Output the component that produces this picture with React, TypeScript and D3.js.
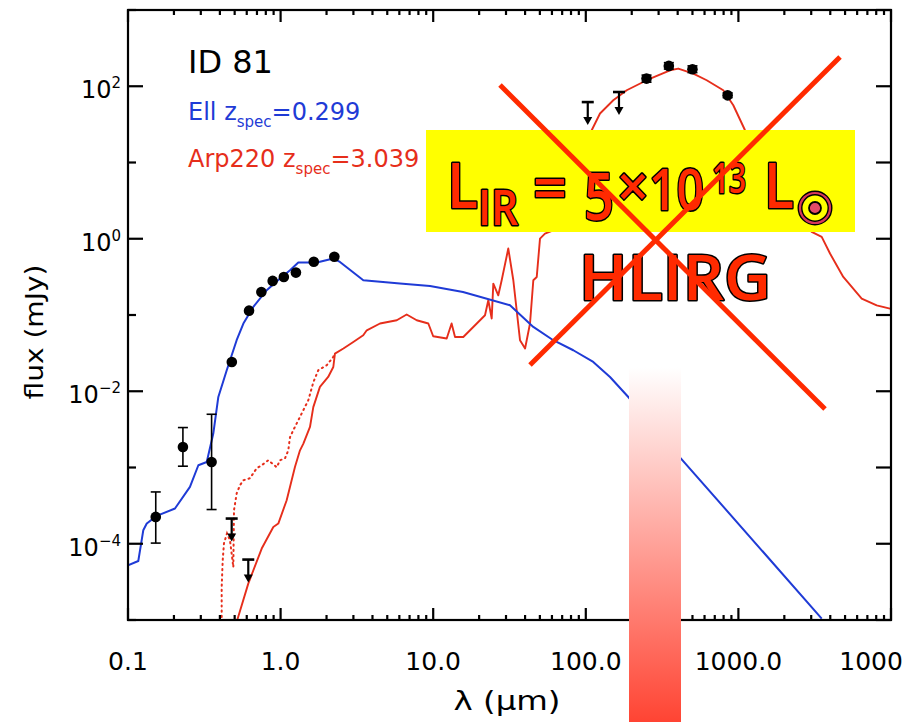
import * as d3 from 'd3';

// Ell template SED at z=0.299 (lambda in micron, flux in mJy)
const ellTemplate: [number, number][] = [
  [0.1, 5.22e-5], [0.1168, 5.94e-5], [0.1259, 1.5e-4], [0.1327, 1.84e-4], [0.1542, 2.32e-4],
  [0.2032, 2.9e-4], [0.2547, 5.56e-4], [0.2891, 1.07e-3], [0.3281, 1.18e-3], [0.3622, 2.79e-3],
  [0.3908, 8.41e-3], [0.4436, 0.01884], [0.5152, 0.0467], [0.5702, 0.0773], [0.6622, 0.1276],
  [0.811, 0.2113], [0.9908, 0.3006], [1.153, 0.3864], [1.306, 0.4875], [1.726, 0.4875],
  [2.218, 0.5495], [2.449, 0.4966], [3.483, 0.2858], [6.053, 0.2582], [9.528, 0.24],
  [15.68, 0.2006], [31.87, 0.1343], [45.3, 0.0697], [61.2, 0.0467], [82.8, 0.0345],
  [111.9, 0.0242], [144.1, 0.0154], [189.9, 8.41e-3], [420.7, 1.31e-3], [3516, 1.045e-5],
];

// Arp220 template SED at z=3.039
const arp220Template: [number, number][] = [
  [0.5, 7e-6], [0.52, 1.0e-5], [0.614, 3.0e-5], [0.752, 8.65e-5], [0.896, 1.66e-4], [0.966, 1.84e-4],
  [1.096, 3.72e-4], [1.152, 5.56e-4], [1.243, 1.02e-3], [1.34, 1.68e-3], [1.41, 2.06e-3],
  [1.558, 3.4e-3], [1.638, 6.2e-3], [1.81, 0.0114], [2.05, 0.0154], [2.215, 0.0208],
  [2.27, 0.0312], [2.58, 0.0363], [2.995, 0.0443], [3.48, 0.0542], [3.67, 0.063],
  [4.48, 0.0773], [5.77, 0.0853], [6.7, 0.1014], [7.8, 0.0853], [9.29, 0.0773],
  [10.0, 0.0526], [12.26, 0.0491], [13.2, 0.0773], [13.9, 0.0515], [15.75, 0.0515],
  [21.85, 0.0993], [22.97, 0.156], [24.17, 0.0898], [24.77, 0.258], [26.7, 0.1815],
  [28.1, 0.2856], [31.05, 0.744], [33.5, 0.2856], [37.05, 0.0467], [40.0, 0.0363],
  [43.1, 0.0773], [45.3, 0.2856], [47.7, 0.3155], [50.1, 1.006], [54.0, 1.17],
  [61.2, 1.29], [73.1, 3.72], [88.9, 10.7], [109.3, 26.5], [123.9, 43.9],
  [151.4, 65.5], [185.4, 88.6], [250.6, 119.9], [356.3, 162.1], [403.8, 170.6],
  [506.3, 146.7], [619.9, 119.9], [796.2, 88.6], [925.9, 56.3], [1105, 26.5],
  [1611, 6.8], [2350, 2.23], [3022, 1.228], [3515, 1.056], [3985, 0.64],
  [4868, 0.3155], [6427, 0.1643], [8058, 0.134], [9850, 0.1215], [11000, 0.118],
];

// Arp220 template without the UV/optical absorption (dotted)
const arp220Dotted: [number, number][] = [
  [0.411, 8e-6], [0.411, 2.69e-5], [0.4175, 6.08e-5], [0.4256, 1.016e-4], [0.4455, 1.37e-4],
  [0.466, 1.11e-4], [0.49, 4.92e-5], [0.495, 2.75e-4], [0.5155, 4.59e-4], [0.542, 5.85e-4],
  [0.57, 6.8e-4], [0.63, 7.23e-4], [0.697, 9.77e-4], [0.752, 1.07e-3], [0.831, 1.245e-3],
  [0.943, 1.007e-3], [0.991, 1.245e-3], [1.069, 1.32e-3], [1.123, 1.68e-3], [1.152, 2.49e-3],
  [1.211, 3.08e-3], [1.306, 4.17e-3], [1.519, 7.62e-3], [1.638, 0.0131], [1.766, 0.0189],
  [2.005, 0.0219], [2.205, 0.0279], [2.27, 0.0312],
];

// photometry: lambda, flux, lower, upper
const detections: [number, number, number, number][] = [
  [0.152, 2.25e-4, 1.02e-4, 4.78e-4],
  [0.229, 1.86e-3, 1.04e-3, 3.34e-3],
  [0.353, 1.18e-3, 2.81e-4, 4.99e-3],
  [0.479, 0.0242, 0.0242, 0.0242],
  [0.621, 0.114, 0.114, 0.114],
  [0.748, 0.2, 0.2, 0.2],
  [0.887, 0.28, 0.28, 0.28],
  [1.05, 0.315, 0.315, 0.315],
  [1.26, 0.36, 0.36, 0.36],
  [1.65, 0.5, 0.5, 0.5],
  [2.25, 0.58, 0.58, 0.58],
  [250, 126, 113, 140],
  [350, 185, 168, 204],
  [500, 167, 151, 185],
  [850, 76, 71, 82],
];

const upperLimits: [number, number][] = [
  [0.478, 2.14e-4],
  [0.614, 6.2e-5],
  [103, 62],
  [165, 84],
];

const xTickValues = [0.1, 1, 10, 100, 1000, 10000];
const xTickLabels = ['0.1', '1.0', '10.0', '100.0', '1000.0', '10000.0'];
const yLabelExponents = [-4, -2, 0, 2];

const BLUE = '#1f3bd6';
const RED = '#e62e1b';
const ALERT = '#ff2a00';
const AXIS_FONT = '"DejaVu Sans", sans-serif';
const BIG_FONT = '"Open Sans", sans-serif';

export default function App() {
  const width = 903;
  const height = 722;
  const plot = { left: 128, right: 891, top: 10, bottom: 620 };

  const x = d3.scaleLog().domain([0.1, 1e4]).range([plot.left, plot.right]);
  const y = d3.scaleLog().domain([1e-5, 1e3]).range([plot.bottom, plot.top]);
  const line = d3
    .line<[number, number]>()
    .x((d) => x(d[0]))
    .y((d) => y(d[1]));

  const xTicks = x.ticks();
  const isDecade = (v: number) => Math.abs(Math.log10(v) - Math.round(Math.log10(v))) < 1e-6;
  const yDecades = d3.range(-5, 4).map((e) => Math.pow(10, e));

  const bigText = {
    fontFamily: BIG_FONT,
    fontWeight: 600,
    fill: ALERT,
    stroke: '#000',
    strokeWidth: 3,
    paintOrder: 'stroke',
    strokeLinejoin: 'round',
  } as const;

  return (
    <svg
      width={width}
      height={height}
      style={{ position: 'absolute', left: 0, top: 0, background: '#fff' }}
    >
      <defs>
        <clipPath id="plotClip">
          <rect x={plot.left} y={plot.top} width={plot.right - plot.left} height={plot.bottom - plot.top} />
        </clipPath>
        <linearGradient id="fade" x1="0" y1="0" x2="0" y2="1">
          <stop offset="0" stopColor="#ffffff" />
          <stop offset="1" stopColor="#ff4433" />
        </linearGradient>
      </defs>
      <rect width={width} height={height} fill="#fff" />

      {/* templates */}
      <g clipPath="url(#plotClip)" fill="none">
        <path d={line(arp220Dotted) || ''} stroke={RED} strokeWidth={2} strokeDasharray="1.2 4" strokeLinecap="round" />
        <path d={line(arp220Template) || ''} stroke={RED} strokeWidth={1.9} strokeLinejoin="round" />
        <path d={line(ellTemplate) || ''} stroke={BLUE} strokeWidth={2} strokeLinejoin="round" />
      </g>

      {/* photometry */}
      <g>
        {detections.map(([l, f, lo, hi], i) => (
          <g key={i}>
            {lo !== hi && (
              <g stroke="#000" strokeWidth={1.6}>
                <line x1={x(l)} x2={x(l)} y1={y(lo)} y2={y(hi)} />
                <line x1={x(l) - 5} x2={x(l) + 5} y1={y(lo)} y2={y(lo)} />
                <line x1={x(l) - 5} x2={x(l) + 5} y1={y(hi)} y2={y(hi)} />
              </g>
            )}
            <circle cx={x(l)} cy={y(f)} r={5.3} fill="#000" />
          </g>
        ))}
        {upperLimits.map(([l, f], i) => (
          <g key={i} transform={`translate(${x(l)},${y(f)})`}>
            <line x1={-6} x2={6} y1={0} y2={0} stroke="#000" strokeWidth={2.6} />
            <line x1={0} x2={0} y1={0} y2={17} stroke="#000" strokeWidth={2.2} />
            <path d="M-4.5,15 L4.5,15 L0,23 Z" fill="#000" />
          </g>
        ))}
      </g>

      {/* axes */}
      <g stroke="#000" strokeWidth={2.2}>
        <rect
          x={plot.left}
          y={plot.top}
          width={plot.right - plot.left}
          height={plot.bottom - plot.top}
          fill="none"
        />
        {xTicks.map((v, i) => {
          const len = isDecade(v) ? 12 : 5;
          return (
            <g key={i}>
              <line x1={x(v)} x2={x(v)} y1={plot.bottom} y2={plot.bottom - len} />
              <line x1={x(v)} x2={x(v)} y1={plot.top} y2={plot.top + len} />
            </g>
          );
        })}
        {yDecades.map((v, i) => {
          const even = Math.round(Math.log10(v)) % 2 === 0;
          return (
            <g key={i}>
              <line x1={plot.left} x2={plot.left + (even ? 15 : 8)} y1={y(v)} y2={y(v)} />
              <line x1={plot.right} x2={plot.right - 15} y1={y(v)} y2={y(v)} />
            </g>
          );
        })}
      </g>
      <g fontFamily={AXIS_FONT} fill="#000">
        {xTickValues.map((v, i) => (
          <text key={i} x={x(v)} y={670} fontSize={25} textAnchor="middle">
            {xTickLabels[i]}
          </text>
        ))}
        {yLabelExponents.map((e) => (
          <text key={e} x={121} y={y(Math.pow(10, e)) + 12} fontSize={24} textAnchor="end">
            10
            <tspan dy={-10} fontSize={15}>
              {e < 0 ? '\u2212' + Math.abs(e) : String(e)}
            </tspan>
          </text>
        ))}
        <text x={507} y={710} fontSize={26} textAnchor="middle" textLength={107} lengthAdjust="spacingAndGlyphs">
          λ (μm)
        </text>
        <text
          transform="translate(43,332) rotate(-90)"
          fontSize={25}
          textAnchor="middle"
          textLength={135}
          lengthAdjust="spacingAndGlyphs"
        >
          flux (mJy)
        </text>
      </g>

      {/* legend */}
      <g fontFamily={AXIS_FONT}>
        <text x={188} y={73} fontSize={32} fill="#000">
          ID 81
        </text>
        <text x={188} y={120} fontSize={24} fill={BLUE}>
          Ell z
          <tspan dy={7} fontSize={15}>
            spec
          </tspan>
          <tspan dy={-7}>=0.299</tspan>
        </text>
        <text x={188} y={167} fontSize={24} fill={RED}>
          Arp220 z
          <tspan dy={7} fontSize={15}>
            spec
          </tspan>
          <tspan dy={-7}>=3.039</tspan>
        </text>
      </g>

      {/* annotation overlay */}
      <rect x={426} y={130} width={429} height={102} fill="#ffff00" />
      <g {...bigText}>
        <text x={447} y={208} fontSize={63} textLength={31} lengthAdjust="spacingAndGlyphs">L</text>
        <text x={478} y={225} fontSize={48} textLength={40} lengthAdjust="spacingAndGlyphs">IR</text>
        <text x={533} y={210} fontSize={63} textLength={34} lengthAdjust="spacingAndGlyphs">=</text>
        <text x={584} y={220} fontSize={66} textLength={30} lengthAdjust="spacingAndGlyphs">5</text>
        <text x={617} y={207} fontSize={58} textLength={32} lengthAdjust="spacingAndGlyphs">×</text>
        <text x={649} y={210} fontSize={58} textLength={55} lengthAdjust="spacingAndGlyphs">10</text>
        <text x={712} y={193} fontSize={42} textLength={34} lengthAdjust="spacingAndGlyphs">13</text>
        <text x={764} y={208} fontSize={63} textLength={30} lengthAdjust="spacingAndGlyphs">L</text>
        <text x={579} y={300} fontSize={64} textLength={192} lengthAdjust="spacingAndGlyphs">HLIRG</text>
      </g>
      <g>
        <circle cx={815} cy={208} r={15} fill="none" stroke="#000" strokeWidth={5} />
        <circle cx={815} cy={208} r={15} fill="none" stroke="#d8385a" strokeWidth={2.2} />
        <circle cx={815} cy={208} r={6} fill="#e24b68" stroke="#000" strokeWidth={1.8} />
      </g>
      <g stroke={ALERT} strokeWidth={5}>
        <line x1={500} y1={85} x2={825} y2={409} />
        <line x1={840} y1={57} x2={530} y2={365} />
      </g>
      <rect x={629} y={367} width={52} height={height - 367} fill="url(#fade)" />
    </svg>
  );
}
